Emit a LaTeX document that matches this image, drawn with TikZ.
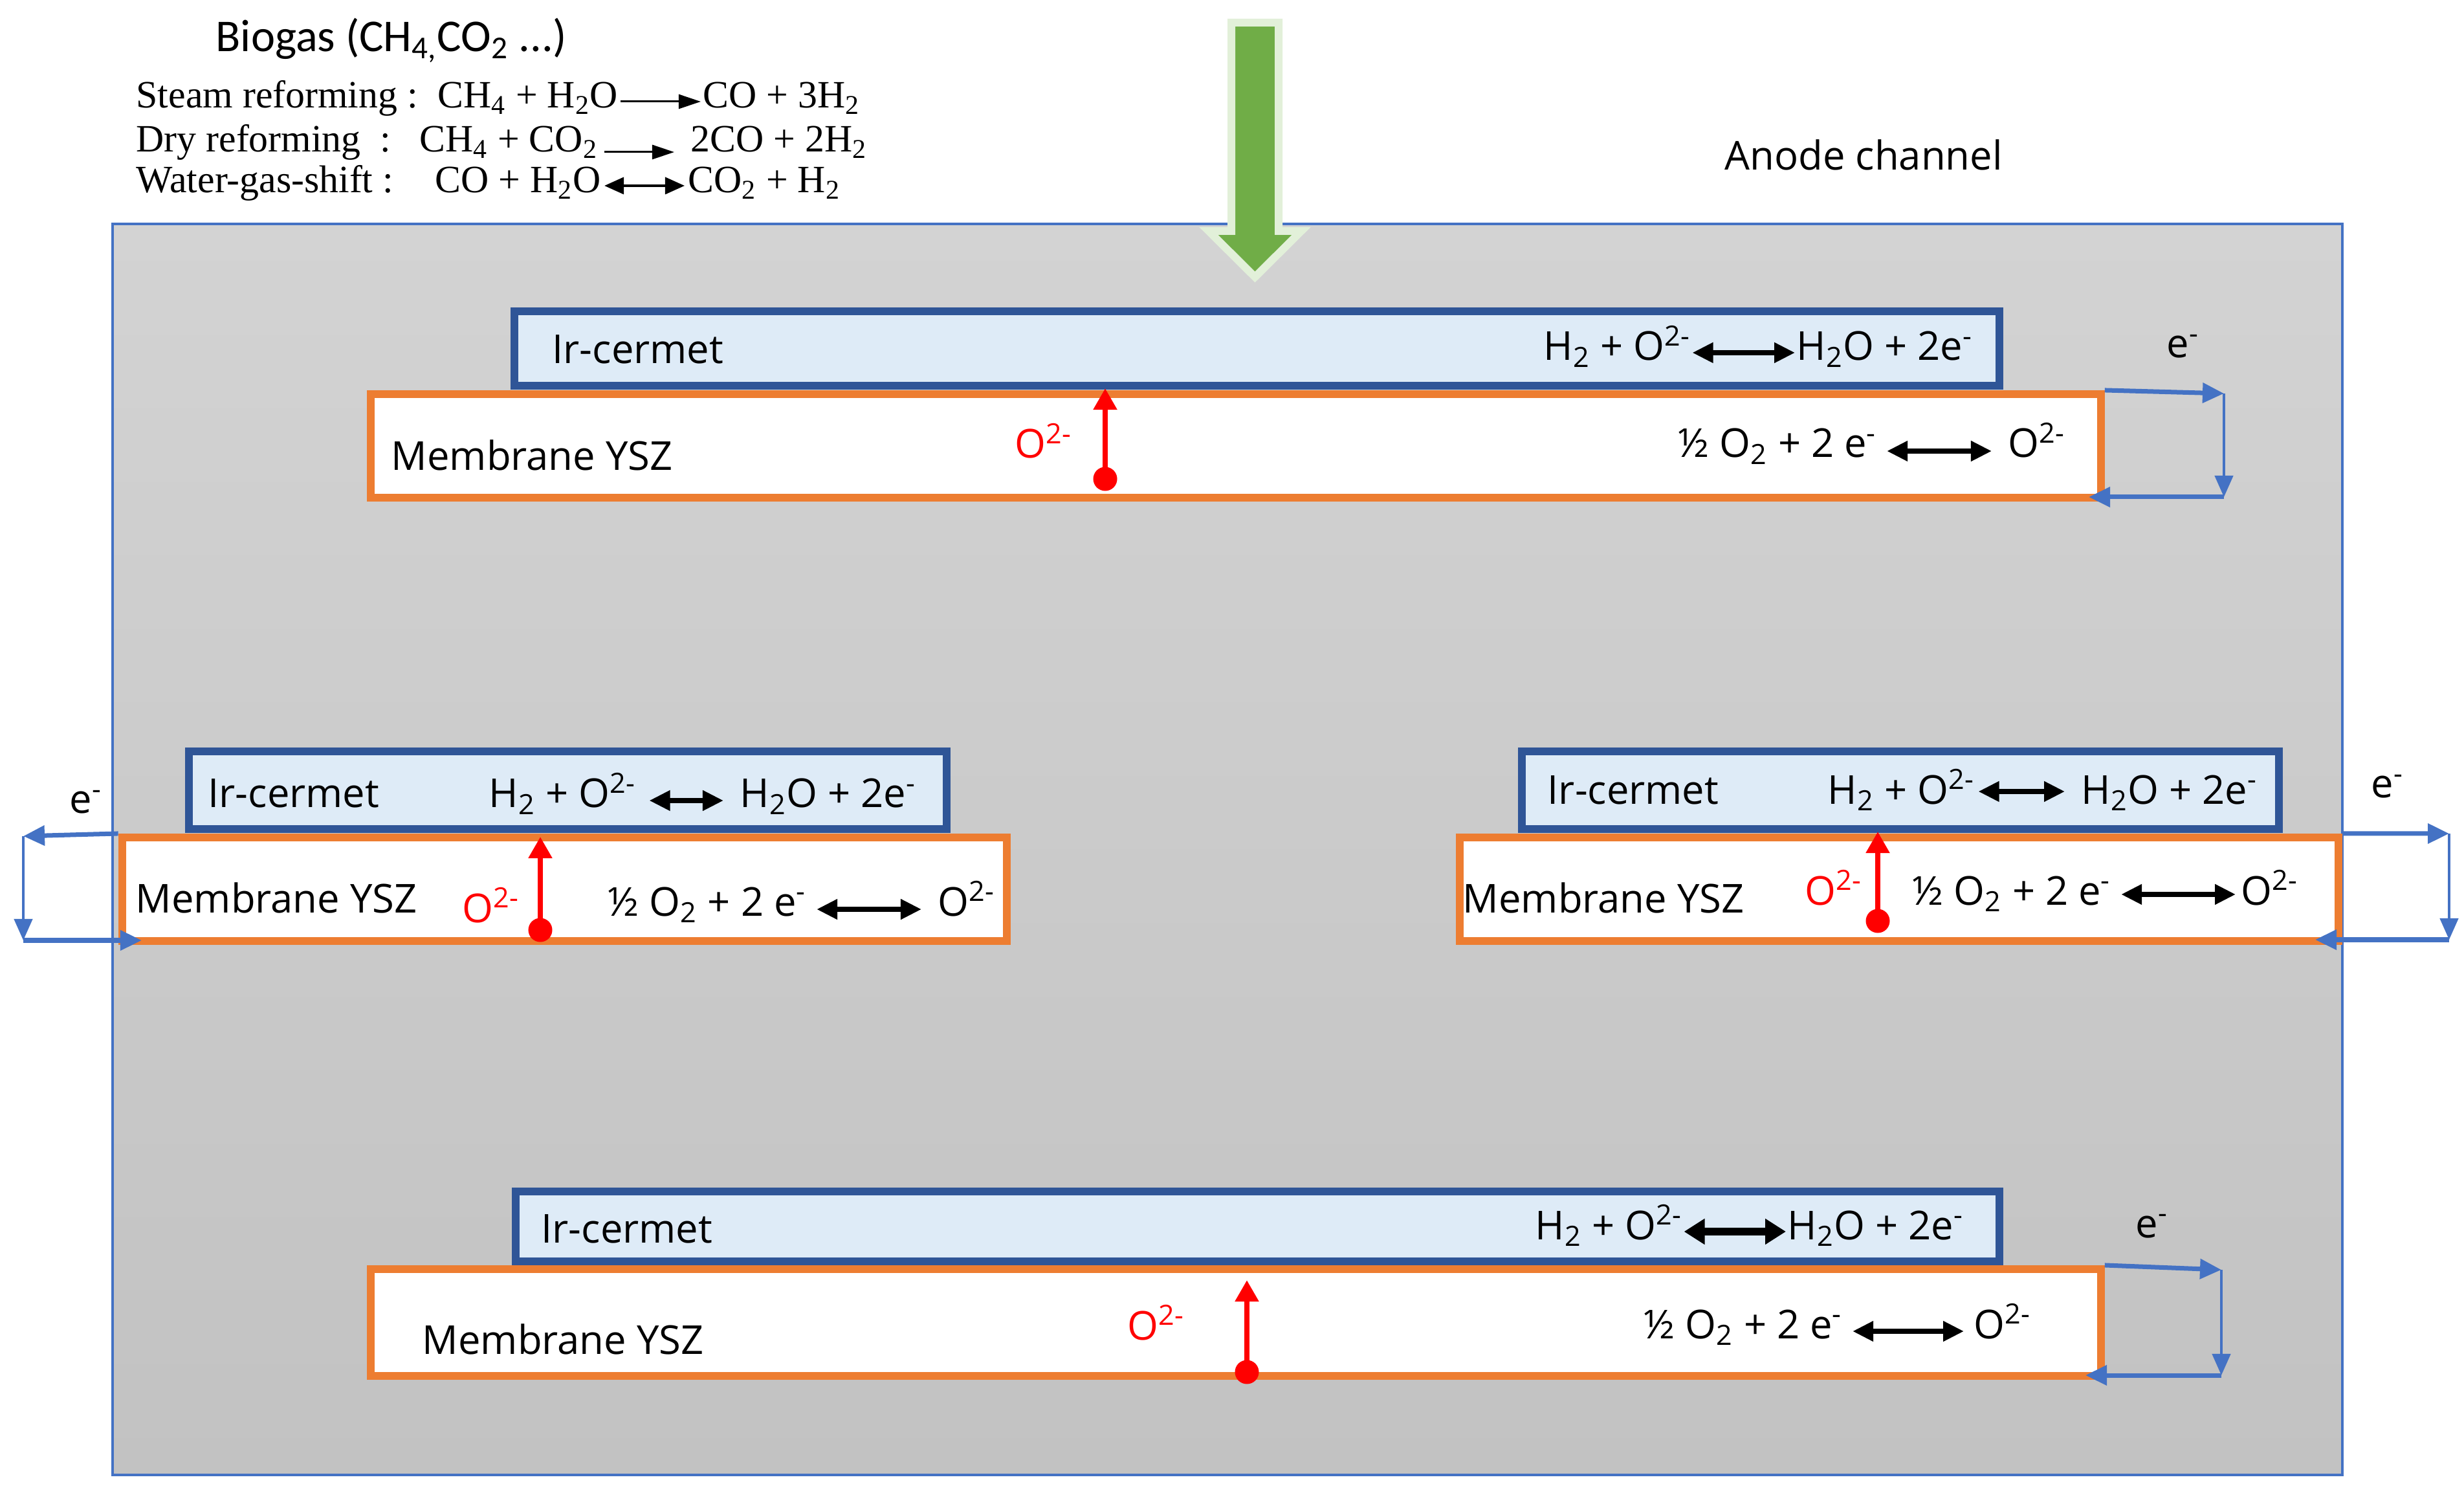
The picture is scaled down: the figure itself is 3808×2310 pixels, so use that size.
\documentclass[tikz,border=0pt]{standalone}
\usepackage{fontspec}
\setmainfont{Open Sans}
\newfontfamily\serifeq{Liberation Serif}
\newfontfamily\biofont{Carlito}
\usetikzlibrary{arrows.meta}

\definecolor{bluebrd}{HTML}{4472C4}
\definecolor{irbrd}{HTML}{2F5597}
\definecolor{irfill}{HTML}{DEEBF7}
\definecolor{orng}{HTML}{ED7D31}
\definecolor{grn}{HTML}{70AD47}
\definecolor{lgrn}{HTML}{E2F0D9}
\definecolor{gtop}{HTML}{D3D3D3}
\definecolor{gbot}{HTML}{C2C2C2}

\tikzset{
  lbl/.style={anchor=base west, inner sep=0pt, font=\fontsize{17.5}{21}\selectfont},
  redlbl/.style={lbl, text=red},
  eqtxt/.style={anchor=base west, inner sep=0pt, font=\serifeq\fontsize{17}{20}\selectfont},
  biotxt/.style={anchor=base west, inner sep=0pt, font=\biofont\fontsize{20}{24}\selectfont},
  irbox/.style={draw=irbrd, fill=irfill, line width=0.12cm, inner sep=0pt},
  membox/.style={draw=orng, fill=white, line width=0.12cm, inner sep=0pt},
  rxarrow/.style={line width=0.075cm, {Triangle[length=0.32cm,width=0.3cm]}-{Triangle[length=0.32cm,width=0.3cm]}},
  rxbold/.style={line width=0.11cm, {Triangle[length=0.32cm,width=0.38cm]}-{Triangle[length=0.32cm,width=0.38cm]}},
  eqone/.style={line width=0.03cm, -{Triangle[length=0.34cm,width=0.22cm]}},
  eqtwo/.style={line width=0.035cm, {Triangle[length=0.3cm,width=0.26cm]}-{Triangle[length=0.3cm,width=0.26cm]}},
  ehor/.style={draw=bluebrd, line width=0.07cm, -{Triangle[length=0.33cm,width=0.3cm]}},
  ever/.style={draw=bluebrd, line width=0.045cm, -{Triangle[length=0.33cm,width=0.28cm]}},
  redarr/.style={draw=red, line width=0.08cm, -{Triangle[length=0.33cm,width=0.35cm]}},
  reddot/.style={circle, fill=red, inner sep=0pt, minimum size=0.37cm},
}

\begin{document}
\begin{tikzpicture}[x=0.01cm, y=-0.01cm]
\useasboundingbox (0,0) rectangle (3808,2310);
\fill[white] (0,0) rectangle (3808,2310);

% anode channel
\node[draw=bluebrd, line width=0.04cm, top color=gtop, bottom color=gbot,
      minimum width=34.44cm, minimum height=19.31cm, inner sep=0pt] (chan) at (1897,1312.5) {};
\node[lbl] (anode) at (2665,263) {Anode channel};

% green inlet arrow
\draw[fill=grn, draw=lgrn, line width=0.12cm, line join=miter]
  (1903,35) -- (1976,35) -- (1976,357) -- (2011,357) -- (1939.5,428) -- (1868,357) -- (1903,357) -- cycle;

% biogas text
\node[biotxt] (bio) at (333,80) {Biogas (CH\textsubscript{4,}CO\textsubscript{2} ...)};

\node[eqtxt] (sr) at (210,167) {Steam reforming :};
\node[eqtxt] (srl) at (676,167) {CH\textsubscript{4} + H\textsubscript{2}O};
\node[eqtxt] (srr) at (1086,167) {CO + 3H\textsubscript{2}};
\draw[eqone] ([xshift=0.03cm,yshift=0.1cm]srl.base east) -- ([xshift=-0.03cm,yshift=0.1cm]srr.base west);

\node[eqtxt] (dr) at (210,235) {Dry reforming~ :};
\node[eqtxt] (drl) at (648,235) {CH\textsubscript{4} + CO\textsubscript{2}};
\node[eqtxt] (drr) at (1067,235) {2CO + 2H\textsubscript{2}};
\draw[eqone] ([xshift=0.1cm,yshift=0cm]drl.base east) -- ([xshift=-0.25cm,yshift=0cm]drr.base west);

\node[eqtxt] (wg) at (210,298) {Water-gas-shift :};
\node[eqtxt] (wgl) at (672,298) {CO + H\textsubscript{2}O};
\node[eqtxt] (wgr) at (1063,298) {CO\textsubscript{2} + H\textsubscript{2}};
\draw[eqtwo] ([xshift=0.05cm,yshift=0.11cm]wgl.base east) -- ([xshift=-0.05cm,yshift=0.11cm]wgr.base west);

% ---------- top cell ----------
\node[irbox, minimum width=22.93cm, minimum height=1.15cm] (ir1) at (1942.5,538.5) {};
\node[membox, minimum width=26.72cm, minimum height=1.60cm] (mem1) at (1910,689) {};
\node[lbl] (irt1) at (853,562) {Ir-cermet};
\node[lbl] (memt1) at (604,727) {Membrane YSZ};
\node[redlbl] (o1) at (1568,708) {O\textsuperscript{2-}};
\node[reddot] (d1) at (1708,740) {};
\coordinate (t1) at (1708,600);
\draw[redarr] (d1.center) -- (t1);
\node[lbl] (h1l) at (2385,557) {H\textsubscript{2} + O\textsuperscript{2-}};
\node[lbl] (h1r) at (2776,557) {H\textsubscript{2}O + 2e\textsuperscript{-}};
\draw[rxarrow] ([xshift=0.02cm,yshift=0.12cm]h1l.base east) -- ([xshift=-0.02cm,yshift=0.12cm]h1r.base west);
\node[lbl] (r1l) at (2593,707) {½ O\textsubscript{2} + 2 e\textsuperscript{-}};
\node[lbl] (r1r) at (3103,707) {O\textsuperscript{2-}};
\draw[rxarrow] ([xshift=0.15cm,yshift=0.1cm]r1l.base east) -- ([xshift=-0.25cm,yshift=0.1cm]r1r.base west);
\node[lbl] (e1) at (3348,553) {e\textsuperscript{-}};
\coordinate (c1b) at (3437,608);
\coordinate (c1c) at (3437,768);
\coordinate (c1d) at (3228,768);
\draw[ehor] (mem1.north east) -- (c1b);
\draw[ever] (c1b) -- (c1c);
\draw[ehor] (c1c) -- (c1d);

% ---------- left cell ----------
\node[irbox, minimum width=11.71cm, minimum height=1.20cm] (ir2) at (877.5,1221) {};
\node[membox, minimum width=13.67cm, minimum height=1.60cm] (mem2) at (872.5,1374) {};
\node[lbl] (irt2) at (321,1248) {Ir-cermet};
\node[lbl] (memt2) at (209,1410) {Membrane YSZ};
\node[redlbl] (o2) at (714,1425) {O\textsuperscript{2-}};
\node[reddot] (d2) at (835,1437) {};
\coordinate (t2) at (835,1293);
\draw[redarr] (d2.center) -- (t2);
\node[lbl] (h2l) at (755,1248) {H\textsubscript{2} + O\textsuperscript{2-}};
\node[lbl] (h2r) at (1143,1248) {H\textsubscript{2}O + 2e\textsuperscript{-}};
\draw[rxarrow] ([xshift=0.2cm,yshift=0.11cm]h2l.base east) -- ([xshift=-0.25cm,yshift=0.11cm]h2r.base west);
\node[lbl] (r2l) at (939,1415) {½ O\textsubscript{2} + 2 e\textsuperscript{-}};
\node[lbl] (r2r) at (1449,1415) {O\textsuperscript{2-}};
\draw[rxarrow] ([xshift=0.15cm,yshift=0.1cm]r2l.base east) -- ([xshift=-0.25cm,yshift=0.1cm]r2r.base west);
\node[lbl] (e2) at (107,1257) {e\textsuperscript{-}};
\coordinate (c2b) at (36,1292);
\coordinate (c2c) at (36,1453);
\coordinate (c2d) at (219,1453);
\draw[ehor] (mem2.north west) -- (c2b);
\draw[ever] (c2b) -- (c2c);
\draw[ehor] (c2c) -- (c2d);

% ---------- right cell ----------
\node[irbox, minimum width=11.70cm, minimum height=1.20cm] (ir3) at (2937,1221) {};
\node[membox, minimum width=13.58cm, minimum height=1.60cm] (mem3) at (2935,1374) {};
\node[lbl] (irt3) at (2391,1242) {Ir-cermet};
\node[lbl] (memt3) at (2260,1410) {Membrane YSZ};
\node[redlbl] (o3) at (2789,1398) {O\textsuperscript{2-}};
\node[reddot] (d3) at (2902,1423) {};
\coordinate (t3) at (2902,1285);
\draw[redarr] (d3.center) -- (t3);
\node[lbl] (h3l) at (2824,1242) {H\textsubscript{2} + O\textsuperscript{2-}};
\node[lbl] (h3r) at (3216,1242) {H\textsubscript{2}O + 2e\textsuperscript{-}};
\draw[rxarrow] ([xshift=0.05cm,yshift=0.19cm]h3l.base east) -- ([xshift=-0.25cm,yshift=0.19cm]h3r.base west);
\node[lbl] (r3l) at (2955,1398) {½ O\textsubscript{2} + 2 e\textsuperscript{-}};
\node[lbl] (r3r) at (3463,1398) {O\textsuperscript{2-}};
\draw[rxarrow] ([xshift=0.15cm,yshift=0.16cm]r3l.base east) -- ([xshift=-0.08cm,yshift=0.16cm]r3r.base west);
\node[lbl] (e3) at (3664,1233) {e\textsuperscript{-}};
\coordinate (c3b) at (3785,1288);
\coordinate (c3c) at (3785,1452);
\coordinate (c3d) at (3578,1452);
\draw[ehor] (mem3.north east) -- (c3b);
\draw[ever] (c3b) -- (c3c);
\draw[ehor] (c3c) -- (c3d);

% ---------- bottom cell ----------
\node[irbox, minimum width=22.91cm, minimum height=1.08cm] (ir4) at (1943.5,1895) {};
\node[membox, minimum width=26.72cm, minimum height=1.65cm] (mem4) at (1910,2043.5) {};
\node[lbl] (irt4) at (836,1920) {Ir-cermet};
\node[lbl] (memt4) at (652,2092) {Membrane YSZ};
\node[redlbl] (o4) at (1742,2070) {O\textsuperscript{2-}};
\node[reddot] (d4) at (1927,2120) {};
\coordinate (t4) at (1927,1978);
\draw[redarr] (d4.center) -- (t4);
\node[lbl] (h4l) at (2372,1915) {H\textsubscript{2} + O\textsuperscript{2-}};
\node[lbl] (h4r) at (2762,1915) {H\textsubscript{2}O + 2e\textsuperscript{-}};
\draw[rxbold] ([xshift=0.02cm,yshift=0.12cm]h4l.base east) -- ([xshift=-0.02cm,yshift=0.12cm]h4r.base west);
\node[lbl] (r4l) at (2540,2068) {½ O\textsubscript{2} + 2 e\textsuperscript{-}};
\node[lbl] (r4r) at (3050,2068) {O\textsuperscript{2-}};
\draw[rxarrow] ([xshift=0.15cm,yshift=0.11cm]r4l.base east) -- ([xshift=-0.15cm,yshift=0.11cm]r4r.base west);
\node[lbl] (e4) at (3300,1912) {e\textsuperscript{-}};
\coordinate (c4b) at (3433,1962);
\coordinate (c4c) at (3433,2125);
\coordinate (c4d) at (3223,2125);
\draw[ehor] (mem4.north east) -- (c4b);
\draw[ever] (c4b) -- (c4c);
\draw[ehor] (c4c) -- (c4d);
\end{tikzpicture}
\end{document}
